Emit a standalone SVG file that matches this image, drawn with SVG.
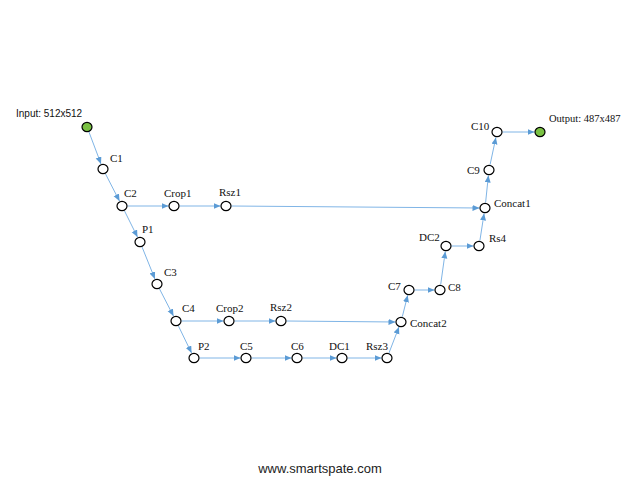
<svg xmlns="http://www.w3.org/2000/svg" width="640" height="480" viewBox="0 0 640 480">
<style>
.n{fill:#ffffff;stroke:#000000;stroke-width:1.2}
.g{fill:#7ac143;stroke:#000000;stroke-width:1.2}
.e{stroke:#80b5e6;stroke-width:1;fill:none;marker-end:url(#a)}
.l{font-family:"Liberation Serif","Times New Roman",serif;font-size:11px;fill:#111111}
.s{font-family:"Liberation Sans",Arial,sans-serif;font-size:10px;fill:#111111}
.w{font-family:"Liberation Sans",Arial,sans-serif;font-size:13px;fill:#222222}
</style>
<defs>
<marker id="a" markerUnits="userSpaceOnUse" markerWidth="8" markerHeight="7" refX="7" refY="3" orient="auto">
<path d="M0,0 L7,3 L0,6 z" fill="#5b9bd5"/>
</marker>
</defs>
<rect width="640" height="480" fill="#ffffff"/>
<g id="connectors">
<line class="e" x1="89" y1="132.1" x2="101" y2="163.9"/>
<line class="e" x1="105.5" y1="173.9" x2="119.5" y2="201.1"/>
<line class="e" x1="127.5" y1="206" x2="168.5" y2="206"/>
<line class="e" x1="179.5" y1="206" x2="220.5" y2="206"/>
<line class="e" x1="231.5" y1="206" x2="479.5" y2="208"/>
<line class="e" x1="124.5" y1="210.9" x2="137.5" y2="237.1"/>
<line class="e" x1="142.1" y1="247.1" x2="154.9" y2="278.9"/>
<line class="e" x1="159.5" y1="288.9" x2="173.5" y2="316.1"/>
<line class="e" x1="181.5" y1="321" x2="223.5" y2="321"/>
<line class="e" x1="234.5" y1="321" x2="275.5" y2="321"/>
<line class="e" x1="286.5" y1="321" x2="395.5" y2="322"/>
<line class="e" x1="178.4" y1="325.9" x2="191.6" y2="353.1"/>
<line class="e" x1="199.5" y1="358" x2="240.5" y2="358"/>
<line class="e" x1="251.5" y1="358" x2="291.5" y2="358"/>
<line class="e" x1="302.5" y1="358" x2="336.5" y2="358"/>
<line class="e" x1="347.5" y1="358" x2="381.5" y2="358"/>
<line class="e" x1="389" y1="352.9" x2="399" y2="326.9"/>
<line class="e" x1="402.3" y1="316.7" x2="407.7" y2="295.3"/>
<line class="e" x1="414.5" y1="290" x2="434.5" y2="290"/>
<line class="e" x1="440.7" y1="284.5" x2="445.3" y2="251.5"/>
<line class="e" x1="451.5" y1="246" x2="473.5" y2="246"/>
<line class="e" x1="479.9" y1="240.6" x2="484.1" y2="213.4"/>
<line class="e" x1="485.6" y1="202.5" x2="488.4" y2="175.5"/>
<line class="e" x1="490.1" y1="164.6" x2="495.9" y2="137.4"/>
<line class="e" x1="502.5" y1="132" x2="534.5" y2="132"/>
</g>
<g id="input"><ellipse class="g" cx="87" cy="127" rx="5" ry="4.6"/><text class="s" x="16" y="117">Input: 512x512</text></g>
<g id="c1"><ellipse class="n" cx="103" cy="169" rx="5" ry="4.6"/><text class="l" x="110" y="162">C1</text></g>
<g id="c2"><ellipse class="n" cx="122" cy="206" rx="5" ry="4.6"/><text class="l" x="124" y="197">C2</text></g>
<g id="crop1"><ellipse class="n" cx="174" cy="206" rx="5" ry="4.6"/><text class="l" x="164" y="197">Crop1</text></g>
<g id="rsz1"><ellipse class="n" cx="226" cy="206" rx="5" ry="4.6"/><text class="l" x="219" y="196">Rsz1</text></g>
<g id="p1"><ellipse class="n" cx="140" cy="242" rx="5" ry="4.6"/><text class="l" x="142" y="233">P1</text></g>
<g id="c3"><ellipse class="n" cx="157" cy="284" rx="5" ry="4.6"/><text class="l" x="164" y="276">C3</text></g>
<g id="c4"><ellipse class="n" cx="176" cy="321" rx="5" ry="4.6"/><text class="l" x="182" y="312">C4</text></g>
<g id="crop2"><ellipse class="n" cx="229" cy="321" rx="5" ry="4.6"/><text class="l" x="216" y="312">Crop2</text></g>
<g id="rsz2"><ellipse class="n" cx="281" cy="321" rx="5" ry="4.6"/><text class="l" x="270" y="311">Rsz2</text></g>
<g id="p2"><ellipse class="n" cx="194" cy="358" rx="5" ry="4.6"/><text class="l" x="198" y="350">P2</text></g>
<g id="c5"><ellipse class="n" cx="246" cy="358" rx="5" ry="4.6"/><text class="l" x="240" y="350">C5</text></g>
<g id="c6"><ellipse class="n" cx="297" cy="358" rx="5" ry="4.6"/><text class="l" x="291" y="350">C6</text></g>
<g id="dc1"><ellipse class="n" cx="342" cy="358" rx="5" ry="4.6"/><text class="l" x="329" y="350">DC1</text></g>
<g id="rsz3"><ellipse class="n" cx="387" cy="358" rx="5" ry="4.6"/><text class="l" x="366" y="350">Rsz3</text></g>
<g id="concat2"><ellipse class="n" cx="401" cy="322" rx="5" ry="4.6"/><text class="l" x="410" y="327">Concat2</text></g>
<g id="c7"><ellipse class="n" cx="409" cy="290" rx="5" ry="4.6"/><text class="l" x="388" y="290">C7</text></g>
<g id="c8"><ellipse class="n" cx="440" cy="290" rx="5" ry="4.6"/><text class="l" x="448" y="291">C8</text></g>
<g id="dc2"><ellipse class="n" cx="446" cy="246" rx="5" ry="4.6"/><text class="l" x="419" y="241">DC2</text></g>
<g id="rs4"><ellipse class="n" cx="479" cy="246" rx="5" ry="4.6"/><text class="l" x="489" y="242">Rs4</text></g>
<g id="concat1"><ellipse class="n" cx="485" cy="208" rx="5" ry="4.6"/><text class="l" x="494" y="207">Concat1</text></g>
<g id="c9"><ellipse class="n" cx="489" cy="170" rx="5" ry="4.6"/><text class="l" x="467" y="174">C9</text></g>
<g id="c10"><ellipse class="n" cx="497" cy="132" rx="5" ry="4.6"/><text class="l" x="471" y="130">C10</text></g>
<g id="output"><ellipse class="g" cx="540" cy="132" rx="5" ry="4.6"/><text class="l" x="549" y="122" style="font-size:10.5px">Output: 487x487</text></g>
<text class="w" x="320" y="473" text-anchor="middle">www.smartspate.com</text>
</svg>
